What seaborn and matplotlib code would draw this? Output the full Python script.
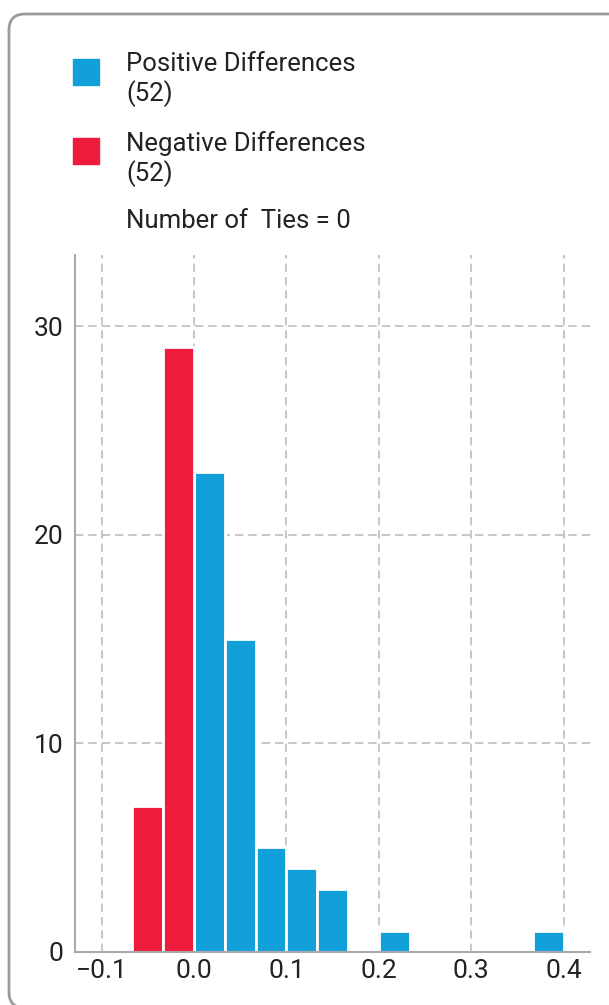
import numpy as np
import pandas as pd
import matplotlib
matplotlib.use("Agg")
import matplotlib.pyplot as plt
from matplotlib.patches import Rectangle, FancyBboxPatch
from matplotlib.transforms import IdentityTransform
import seaborn as sns

# histogram bins (width 1/30) and counts
bin_lo = [-2/30, -1/30, 0/30, 1/30, 2/30, 3/30, 4/30, 6/30, 11/30]
counts = [7, 29, 23, 15, 5, 4, 3, 1, 1]
sign = ["Negative", "Negative", "Positive", "Positive", "Positive",
        "Positive", "Positive", "Positive", "Positive"]

n_pos = 52
n_neg = 52
n_ties = 0

blue = "#12A0DA"
red = "#EE1B3C"
grey = "#a8a8ad"
ink = "#222222"

df = pd.DataFrame({"center": np.array(bin_lo) + 1/60, "count": counts, "sign": sign})

sns.set_style("white")
plt.rcParams["font.family"] = ["Roboto", "DejaVu Sans"]

W, H = 609, 1005
fig = plt.figure(figsize=(W / 100, H / 100), dpi=100)
ax = fig.add_axes([0.123, 0.053, 0.846, 0.693])

sns.histplot(data=df, x="center", weights="count", hue="sign",
             binwidth=1/30, binrange=(-2/30, 12/30),
             palette={"Positive": blue, "Negative": red}, alpha=1,
             edgecolor="white", linewidth=2, legend=False, ax=ax)

ax.set_xlim(-0.1288, 0.4286)
ax.set_ylim(0, 33.4)
ax.set_xticks([-0.1, 0.0, 0.1, 0.2, 0.3, 0.4])
ax.set_xticklabels(["\u22120.1", "0.0", "0.1", "0.2", "0.3", "0.4"])
ax.set_yticks([0, 10, 20, 30])
ax.set_xlabel("")
ax.set_ylabel("")
ax.tick_params(length=0, labelsize=19, colors=ink)
ax.tick_params(axis="y", pad=8)
ax.tick_params(axis="x", pad=5)
ax.grid(True, linestyle=(0, (5, 3)), color="#bdbdc2", linewidth=1.2)
ax.set_axisbelow(True)
for s in ["top", "right"]:
    ax.spines[s].set_visible(False)
for s in ["left", "bottom"]:
    ax.spines[s].set_color(grey)
    ax.spines[s].set_linewidth(1.5)


# legend drawn by hand: swatch + text lines (pixel positions from top-left)
def px(x, y):
    return x / W, 1 - y / H


legend_rows = [
    (blue, [(f"Positive Differences", 71), (f"({n_pos})", 101)], 59),
    (red, [(f"Negative Differences", 151), (f"({n_neg})", 181)], 138),
    (None, [(f"Number of  Ties = {n_ties}", 228)], None),
]
for color, lines, sq_top in legend_rows:
    if color is not None:
        x0, y0 = px(73, sq_top + 26)
        fig.patches.append(Rectangle((x0, y0), 26 / W, 26 / H, color=color,
                                     transform=fig.transFigure))
    for txt, base in lines:
        fig.text(*px(126, base), txt, fontsize=18.5, color=ink, va="baseline")

# rounded card border, bottom edge sits just below the image
frame = FancyBboxPatch((9, -3), 700, H - 14 + 3,
                       boxstyle="round,pad=0,rounding_size=16",
                       transform=IdentityTransform(), fill=False,
                       edgecolor="#9a9a9e", linewidth=2, clip_on=False)
fig.patches.append(frame)

fig.savefig("out.png", dpi=100)
